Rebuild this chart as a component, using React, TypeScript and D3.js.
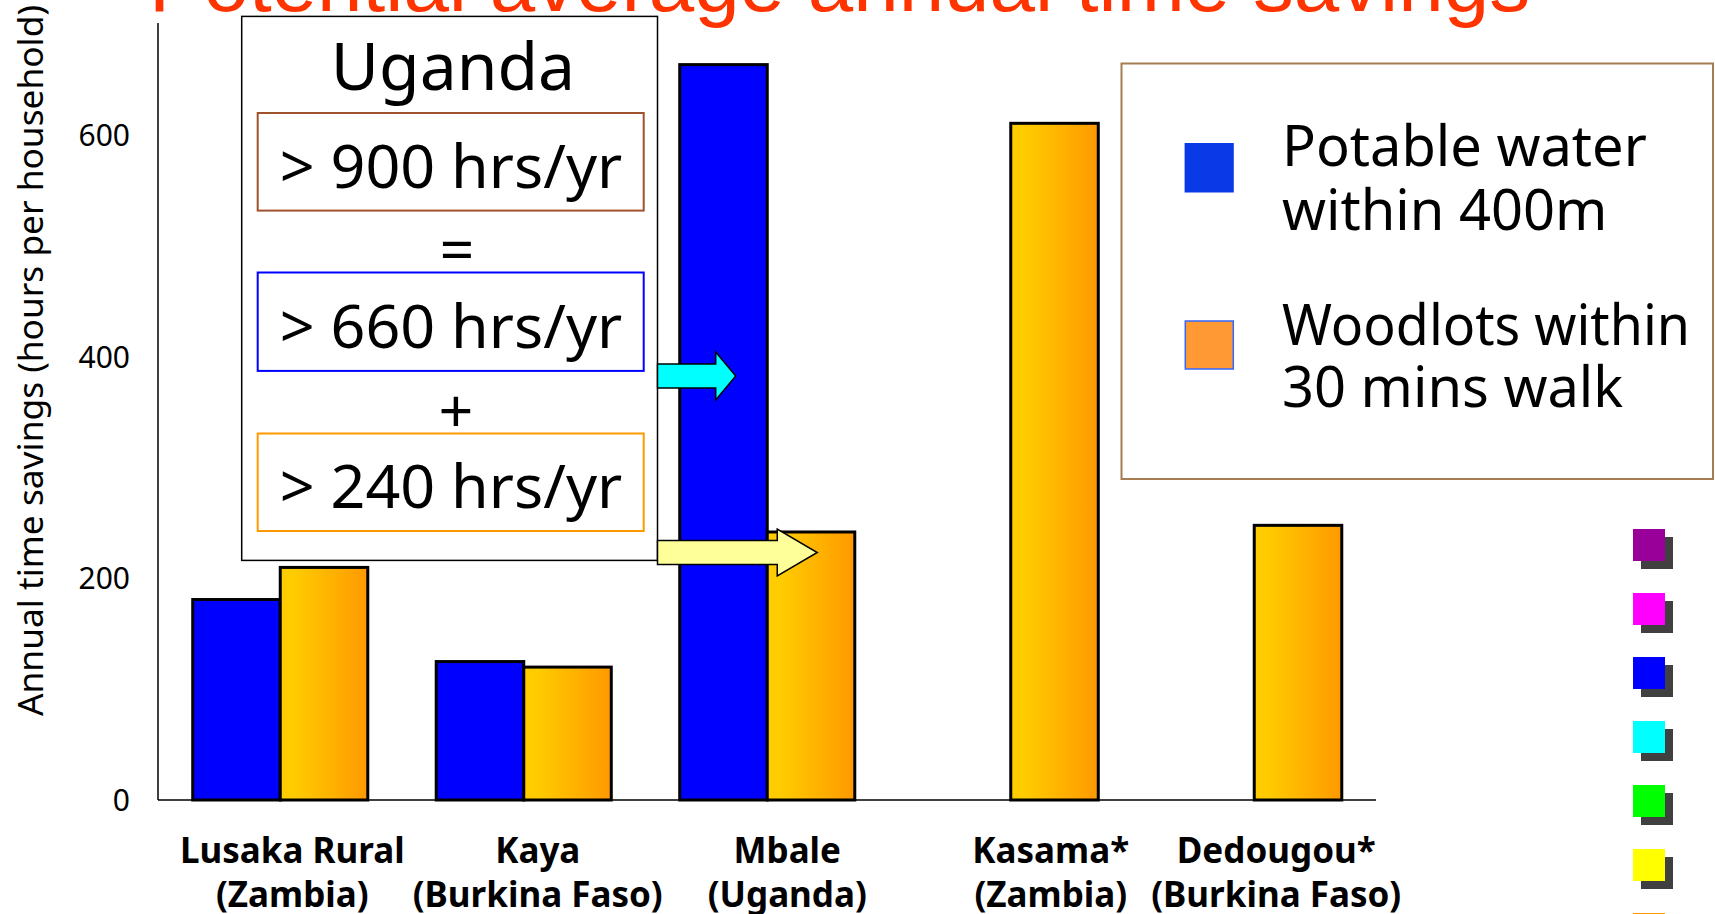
import * as d3 from "d3"

const categories = ["Lusaka Rural", "Kaya", "Mbale", "Kasama*", "Dedougou*"]
const countries = ["(Zambia)", "(Burkina Faso)", "(Uganda)", "(Zambia)", "(Burkina Faso)"]
const waterValues = [181, 125, 664, null, null]
const woodValues = [210, 120, 242, 611, 248]
const yTicks = [0, 200, 400, 600]
const seriesNames = ["Potable water within 400m", "Woodlots within 30 mins walk"]
const sideSwatches = ["#990099", "#ff00ff", "#0000ff", "#00ffff", "#00ff00", "#ffff00", "#ff9900"]

const W = 1715
const H = 914
const font = "'Noto Sans', 'DejaVu Sans', sans-serif"

// labels in the slide were placed by hand, a little right of the groups
const labelShift = [12, 14, 20, 40, 22]

export default function App() {
  const x = d3.scaleBand().domain(categories).range([158.5, 1376]).padding(0)
  const x1 = d3.scaleBand().domain(["water", "wood"]).range([0, x.bandwidth()]).paddingInner(0).paddingOuter(0.391)
  const y = d3.scaleLinear().domain([0, 600]).range([800, 135.5])

  const bars = categories.flatMap((c, i) => [
    { key: "water", cat: c, v: waterValues[i] },
    { key: "wood", cat: c, v: woodValues[i] },
  ]).filter((d) => d.v != null)

  const mbale = x("Mbale")
  const cyanTip = mbale + x1("water") + 56
  const yellowTip = mbale + x1("wood") + 50
  const boxRight = 657.5

  const arrow = (x0, tip, cy, shaftH, headH, headL) =>
    `M${x0},${cy - shaftH} L${tip - headL},${cy - shaftH} L${tip - headL},${cy - headH} L${tip},${cy} ` +
    `L${tip - headL},${cy + headH} L${tip - headL},${cy + shaftH} L${x0},${cy + shaftH} Z`

  return (
    <svg width={W} height={H} style={{ position: "absolute", left: 0, top: 0, background: "#fff" }} fontFamily={font}>
      <defs>
        <linearGradient id="woodGrad" x1="0" x2="1" y1="0" y2="0">
          <stop offset="0.15" stopColor="#ffcc00" />
          <stop offset="1" stopColor="#ff9900" />
        </linearGradient>
      </defs>

      {/* title, cut off at top in the original */}
      <text x={149} y={11} fontFamily="'Liberation Sans', Arial, sans-serif" fontSize={80} fill="#ff3300"
        textLength={1381} lengthAdjust="spacingAndGlyphs">
        Potential average annual time savings
      </text>

      {/* axes */}
      <line x1={158} x2={158} y1={23} y2={y(0)} stroke="#000" strokeWidth={1.5} />
      <line x1={158} x2={1376} y1={y(0)} y2={y(0)} stroke="#000" strokeWidth={1.5} />
      {yTicks.map((t) => (
        <text key={t} x={130} y={y(t)} dy="0.36em" textAnchor="end" fontSize={30} fill="#000">
          {t}
        </text>
      ))}
      <text transform="translate(43,360.5) rotate(-90)" textAnchor="middle" fontSize={34} fill="#000"
        textLength={711} lengthAdjust="spacingAndGlyphs">
        Annual time savings (hours per household)
      </text>

      {/* bars */}
      {bars.map((d) => (
        <rect key={d.cat + d.key} x={x(d.cat) + x1(d.key)} y={y(d.v)} width={x1.bandwidth()} height={y(0) - y(d.v)}
          fill={d.key === "water" ? "#0000ff" : "url(#woodGrad)"} stroke="#000" strokeWidth={3} />
      ))}

      {/* category labels */}
      {categories.map((c, i) => {
        const cx = x(c) + x.bandwidth() / 2 + labelShift[i]
        return (
          <g key={c} fontSize={35} fontWeight="bold" textAnchor="middle" fill="#000">
            <text x={cx} y={863}>{c}</text>
            <text x={cx} y={906.5}>{countries[i]}</text>
          </g>
        )
      })}

      {/* Uganda annotation */}
      <rect x={241.7} y={16.4} width={boxRight - 241.7} height={544} fill="#fff" stroke="#000" strokeWidth={1.5} />
      <text x={453} y={90} textAnchor="middle" fontSize={66} fill="#000">Uganda</text>
      <rect x={257.7} y={113} width={386} height={97.6} fill="none" stroke="#a0522d" strokeWidth={2} />
      <text x={451} y={187.6} textAnchor="middle" fontSize={61} fill="#000">{"> 900 hrs/yr"}</text>
      <text x={457} y={249.5} dy="0.36em" textAnchor="middle" fontSize={61} fill="#000">=</text>
      <rect x={257.7} y={272.5} width={386} height={98.4} fill="none" stroke="#0000ff" strokeWidth={2} />
      <text x={451} y={348} textAnchor="middle" fontSize={61} fill="#000">{"> 660 hrs/yr"}</text>
      <text x={456} y={410.6} dy="0.36em" textAnchor="middle" fontSize={61} fill="#000">+</text>
      <rect x={257.7} y={433.5} width={386} height={97.5} fill="none" stroke="#ff9900" strokeWidth={2} />
      <text x={451} y={508} textAnchor="middle" fontSize={61} fill="#000">{"> 240 hrs/yr"}</text>

      {/* arrows */}
      <path d={arrow(boxRight, cyanTip, 376, 12, 24, 20)} fill="#00ffff" stroke="#000" strokeWidth={1.5} />
      <path d={arrow(boxRight, yellowTip, 552.5, 12, 23.5, 40)} fill="#ffff99" stroke="#000" strokeWidth={1.5} />

      {/* legend */}
      <rect x={1121.5} y={63.5} width={591.5} height={415.5} fill="#fff" stroke="#a67c52" strokeWidth={2} />
      <rect x={1184.6} y={143} width={49.2} height={49.5} fill="#0a3ae8" />
      <rect x={1185.3} y={321} width={48} height={48} fill="#ff9933" stroke="#3366ff" strokeWidth={1.5} />
      <g fontSize={56} fill="#000">
        <text x={1282} y={166}>Potable water</text>
        <text x={1282} y={229.7}>within 400m</text>
        <text x={1282} y={344.5} textLength={408} lengthAdjust="spacingAndGlyphs">Woodlots within</text>
        <text x={1282} y={407}>30 mins walk</text>
      </g>
      <title>{seriesNames.join(" / ")}</title>

      {/* colour swatches at right edge of the slide */}
      {sideSwatches.map((c, i) => (
        <g key={c}>
          <rect x={1641} y={537 + i * 64} width={32} height={32} fill="#404040" />
          <rect x={1633} y={529 + i * 64} width={32} height={32} fill={c} />
        </g>
      ))}
    </svg>
  )
}
